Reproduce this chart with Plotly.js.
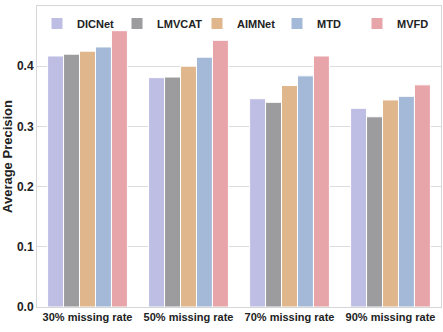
<!DOCTYPE html>
<html>
<head>
<meta charset="utf-8">
<script src="https://cdn.plot.ly/plotly-3.0.1.min.js"></script>
<style>
  body { margin: 0; background: #fff; }
  #chart { width: 443px; height: 332px; }
</style>
</head>
<body>
<div id="chart"></div>
<script>
// missing-rate groups on the x axis
var rates = ["30% missing rate", "50% missing rate", "70% missing rate", "90% missing rate"];

// average precision per method
var dicnet = [0.417, 0.381, 0.346, 0.330];
var lmvcat = [0.420, 0.382, 0.340, 0.316];
var aimnet = [0.425, 0.400, 0.368, 0.344];
var mtd    = [0.432, 0.415, 0.384, 0.350];
var mvfd   = [0.459, 0.443, 0.417, 0.369];

var methods = ["DICNet", "LMVCAT", "AIMNet", "MTD", "MVFD"];
var values = [dicnet, lmvcat, aimnet, mtd, mvfd];
var colors = ["#bebde3", "#9c9c9f", "#e0b78d", "#a3b9d7", "#e7a5aa"];

var font = "Liberation Sans, Arial, sans-serif";

var data = methods.map(function(name, i) {
  return {
    type: "bar",
    name: name,
    x: rates,
    y: values[i],
    marker: { color: colors[i], line: { color: "#ffffff", width: 1 } }
  };
});

var layout = {
  width: 443,
  height: 332,
  margin: { l: 37, r: 2, t: 6, b: 25 },
  paper_bgcolor: "#ffffff",
  plot_bgcolor: "#ffffff",
  barmode: "group",
  bargap: 0.21,
  bargroupgap: 0,
  font: { family: font, size: 12, color: "#222" },
  showlegend: true,
  legend: {
    orientation: "h",
    x: 0.0, y: 0.99,
    xanchor: "left", yanchor: "top",
    bgcolor: "rgba(255,255,255,0)",
    entrywidth: 35,
    itemwidth: 30,
    font: { family: font, size: 11, color: "#222", weight: "bold" }
  },
  xaxis: {
    tickangle: 0,
    tickfont: { family: font, size: 11, weight: "bold", color: "#222" },
    showline: true, linecolor: "#d6d6d6", linewidth: 1, mirror: true,
    showgrid: false, ticks: ""
  },
  yaxis: {
    range: [0, 0.5],
    dtick: 0.1,
    tickformat: ".1f",
    tickfont: { family: font, size: 12, weight: "bold", color: "#222" },
    title: { text: "Average Precision", font: { family: font, size: 13, weight: "bold", color: "#222" }, standoff: 6 },
    showgrid: true, gridcolor: "#dcdcdc", gridwidth: 1,
    showline: true, linecolor: "#d6d6d6", linewidth: 1, mirror: true,
    zeroline: false, ticks: ""
  }
};

Plotly.newPlot("chart", data, layout, { displayModeBar: false, staticPlot: true });
</script>
</body>
</html>
